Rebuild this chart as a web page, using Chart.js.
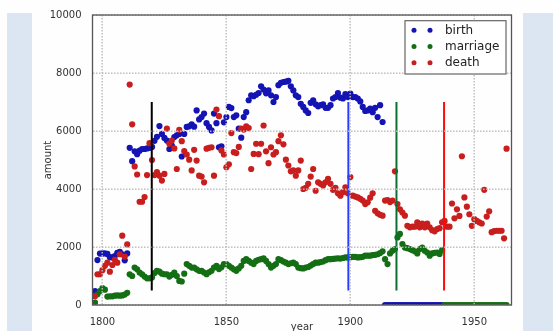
<!DOCTYPE html>
<html>
<head>
<meta charset="utf-8">
<script src="https://cdn.jsdelivr.net/npm/chart.js@4"></script>
<style>
  body { margin: 0; background: #fefefe; }
  #wrap { position: relative; width: 553px; height: 331px; overflow: hidden; }
  .panel { position: absolute; top: 13px; height: 318px; background: #dce6f2; }
  #leftPanel { left: 7px; width: 25px; }
  #rightPanel { left: 523px; width: 30px; }
  canvas { position: absolute; left: 0; top: 0; }
</style>
</head>
<body>
<div id="wrap">
  <div class="panel" id="leftPanel"></div>
  <div class="panel" id="rightPanel"></div>
  <canvas id="chart" width="553" height="331"></canvas>
</div>
<script>
'use strict';

// first year of every series, one value per year after that
var firstYear = 1797;

// 1797 - 1937
var birth = [
    480, 1550, 1775, 1780, 1780, 1760, 1650, 1640, 1690, 1800,
    1830, 1750, 1540, 1780, 5420, 4960, 5300, 5200, 5320, 5380,
    5380, 5400, 5420, 5450, 5660, 5800, 6170, 5900, 5760, 5670,
    5380, 5500, 5790, 5850, 5900, 5120, 5900, 6140, 6160, 6230,
    6150, 6710, 6400, 6480, 6600, 6270, 6140, 6020, 6600, 6270,
    5440, 5470, 6300, 6480, 6830, 6790, 6480, 6540, 6080, 5770,
    6480, 6650, 7060, 7230, 7200, 7250, 7310, 7540, 7430, 7300,
    7400, 7230, 7000, 7170, 7580, 7660, 7690, 7700, 7730, 7540,
    7400, 7230, 7170, 6940, 6830, 6710, 6620, 6970, 7060, 6920,
    6850, 6890, 6920, 6800, 6800, 6890, 7120, 7170, 7310, 7150,
    7120, 7270, 7170, 7290, 7170, 7170, 7120, 7020, 6830, 6690,
    6710, 6770, 6650, 6800, 6480, 6890, 6310, 0, 0, 0,
    0, 0, 0, 0, 0, 0, 0, 0, 0, 0,
    0, 0, 0, 0, 0, 0, 0, 0, 0, 0,
    0
];

// 1797 - 1963
var marriage = [
    80, 370, 480, 580, 530, 290, 300, 300, 320, 330,
    320, 330, 360, 420, 1060, 1000, 1290, 1230, 1120, 1060,
    980, 920, 920, 950, 1100, 1180, 1150, 1080, 1060, 1060,
    980, 1040, 1120, 1000, 830, 810, 1080, 1410, 1350, 1290,
    1290, 1230, 1180, 1180, 1120, 1060, 1130, 1180, 1290, 1350,
    1240, 1300, 1410, 1410, 1350, 1290, 1230, 1180, 1260, 1350,
    1520, 1580, 1520, 1460, 1410, 1520, 1560, 1580, 1610, 1520,
    1410, 1290, 1350, 1410, 1580, 1545, 1500, 1460, 1410, 1440,
    1460, 1410, 1290, 1270, 1260, 1290, 1310, 1360, 1410, 1460,
    1460, 1480, 1500, 1545, 1580, 1580, 1590, 1600, 1610, 1600,
    1620, 1640, 1640, 1650, 1660, 1660, 1640, 1650, 1660, 1700,
    1700, 1700, 1720, 1730, 1750, 1790, 1850, 1580, 1410, 1780,
    1870, 1930, 2330, 2450, 2100, 1980, 1960, 1930, 1890, 1850,
    1780, 1930, 1980, 1870, 1810, 1700, 1780, 1800, 1810, 1760,
    1890, 0, 0, 0, 0, 0, 0, 0, 0, 0,
    0, 0, 0, 0, 0, 0, 0, 0, 0, 0,
    0, 0, 0, 0, 0, 0, 0
];

// 1797 - 1963
var death = [
    300, 1060, 1060, 1200, 1350, 1460, 1150, 1380, 1560, 1460,
    1750, 2390, 1670, 2090, 7600, 6230, 4780, 4500, 3560, 3560,
    3720, 4480, 5580, 5000, 4480, 4580, 4460, 4290, 4520, 6080,
    5560, 5670, 5400, 4690, 6040, 5650, 5310, 5190, 5010, 4640,
    5350, 4980, 4460, 4430, 4230, 5390, 5420, 5440, 4460, 6740,
    6510, 5330, 5190, 4750, 4850, 5930, 5270, 5240, 5450, 6080,
    6050, 6160, 6100, 4690, 5210, 5560, 5200, 5560, 6190, 5300,
    4890, 5440, 5190, 5270, 5650, 5850, 5540, 5010, 4810, 4610,
    4640, 4460, 4640, 4980, 4000, 4040, 4180, 4430, 4690, 3940,
    4230, 4180, 4120, 4230, 4350, 4180, 3970, 4040, 3850, 3770,
    3890, 4060, 3850, 4410, 3770, 3740, 3710, 3660, 3600, 3480,
    3540, 3700, 3850, 3250, 3160, 3110, 3080, 3600, 3620, 3550,
    3600, 4610, 3480, 3300, 3190, 3080, 2730, 2680, 2700, 2700,
    2850, 2680, 2810, 2680, 2810, 2680, 2580, 2540, 2620, 2650,
    2850, 2900, 2700, 2700, 3500, 2990, 3300, 3070, 5130, 3710,
    3390, 3130, 2730, 2960, 2900, 2850, 2810, 3970, 3050, 3230,
    2510, 2550, 2560, 2560, 2560, 2300, 5390
];

// vertical marker lines
var markerYears = [1819.9, 1899.2, 1918.6, 1937.8];
var markerColors = ['#000000', '#2a3cff', '#0b7030', '#ff0a0a'];
var markerRange = [500, 7000];

var xTicks = [1800, 1850, 1900, 1950];
var yTicks = [0, 2000, 4000, 6000, 8000, 10000];

var seriesNames = ['birth', 'marriage', 'death'];
var seriesColors = ['#1414b4', '#146e14', '#c81e1e'];

function toPoints(values) {
    return values.map(function (v, i) {
        return {x: firstYear + i, y: v};
    });
}

var datasets = [birth, marriage, death].map(function (values, i) {
    return {
        type: 'scatter',
        label: seriesNames[i],
        data: toPoints(values),
        backgroundColor: seriesColors[i],
        borderColor: seriesColors[i],
        borderWidth: 0,
        pointRadius: 3.1,
        clip: 0,
        order: 3 - i
    };
});

markerYears.forEach(function (year, i) {
    datasets.push({
        type: 'line',
        label: 'marker' + i,
        data: [{x: year, y: markerRange[0]}, {x: year, y: markerRange[1]}],
        borderColor: markerColors[i],
        borderWidth: 2,
        pointRadius: 0,
        fill: false,
        order: 0
    });
});

// dotted grid, drawn dot by dot (classic matplotlib keeps it above the data)
var gridPlugin = {
    id: 'dottedGrid',
    afterDatasetsDraw: function (chart) {
        var ctx = chart.ctx;
        var a = chart.chartArea;
        var xs = chart.scales.x;
        var ys = chart.scales.y;
        var x, y;
        ctx.save();
        ctx.fillStyle = '#bcbcbc';
        xTicks.forEach(function (v) {
            var px = Math.round(xs.getPixelForValue(v));
            for (y = Math.ceil(a.top); y < a.bottom; y += 3) {
                ctx.fillRect(px - 0.5, y, 1.4, 1.5);
            }
        });
        yTicks.forEach(function (v) {
            var py = Math.round(ys.getPixelForValue(v));
            for (x = Math.ceil(a.left); x < a.right; x += 3) {
                ctx.fillRect(x, py - 0.5, 1.5, 1.4);
            }
        });
        ctx.restore();
    }
};

var framePlugin = {
    id: 'frame',
    afterDraw: function (chart) {
        var ctx = chart.ctx;
        var a = chart.chartArea;
        ctx.save();
        ctx.strokeStyle = '#555555';
        ctx.lineWidth = 1.3;
        ctx.strokeRect(a.left, a.top, a.right - a.left, a.bottom - a.top);

        // legend box in the upper right corner
        var boxLeft = a.right - 106.5;
        var boxTop = a.top + 5.7;
        ctx.fillStyle = '#ffffff';
        ctx.fillRect(boxLeft, boxTop, 101, 53.3);
        ctx.strokeStyle = '#666666';
        ctx.lineWidth = 1.2;
        ctx.strokeRect(boxLeft, boxTop, 101, 53.3);
        ctx.font = '12px "DejaVu Sans"';
        ctx.textBaseline = 'middle';
        seriesNames.forEach(function (name, i) {
            var rowY = a.top + 15.2 + i * 16.3;
            ctx.fillStyle = seriesColors[i];
            [9, 25].forEach(function (dx) {
                ctx.beginPath();
                ctx.arc(boxLeft + dx, rowY, 2.5, 0, Math.PI * 2);
                ctx.fill();
            });
            ctx.fillStyle = '#222222';
            ctx.fillText(name, boxLeft + 40, rowY + 0.5);
        });
        ctx.restore();
    }
};

new Chart(document.getElementById('chart'), {
    type: 'scatter',
    data: {datasets: datasets},
    options: {
        responsive: false,
        devicePixelRatio: 1,
        animation: false,
        layout: {
            padding: {left: 0, right: 41.5, top: 15, bottom: 0}
        },
        plugins: {
            legend: {display: false},
            tooltip: {enabled: false}
        },
        scales: {
            x: {
                type: 'linear',
                min: 1796,
                max: 1965,
                afterBuildTicks: function (axis) {
                    axis.ticks = xTicks.map(function (v) { return {value: v}; });
                },
                afterFit: function (scale) { scale.height = 26; },
                grid: {display: false},
                border: {display: false},
                ticks: {
                    padding: 3,
                    color: '#333333',
                    font: {family: 'DejaVu Sans', size: 10},
                    callback: function (v) { return String(v); }
                },
                title: {
                    display: true,
                    text: 'year',
                    color: '#333333',
                    font: {family: 'DejaVu Sans', size: 10, lineHeight: 1},
                    padding: {top: 0, bottom: -1}
                }
            },
            y: {
                type: 'linear',
                min: 0,
                max: 10000,
                afterBuildTicks: function (axis) {
                    axis.ticks = yTicks.map(function (v) { return {value: v}; });
                },
                afterFit: function (scale) { scale.width = 92.5; },
                grid: {display: false},
                border: {display: false},
                ticks: {
                    padding: 3,
                    color: '#333333',
                    font: {family: 'DejaVu Sans', size: 10},
                    callback: function (v) { return String(v); }
                },
                title: {
                    display: true,
                    text: 'amount',
                    color: '#333333',
                    font: {family: 'DejaVu Sans', size: 10, lineHeight: 1},
                    padding: {top: 43, bottom: 0}
                }
            }
        }
    },
    plugins: [gridPlugin, framePlugin]
});
</script>
</body>
</html>
